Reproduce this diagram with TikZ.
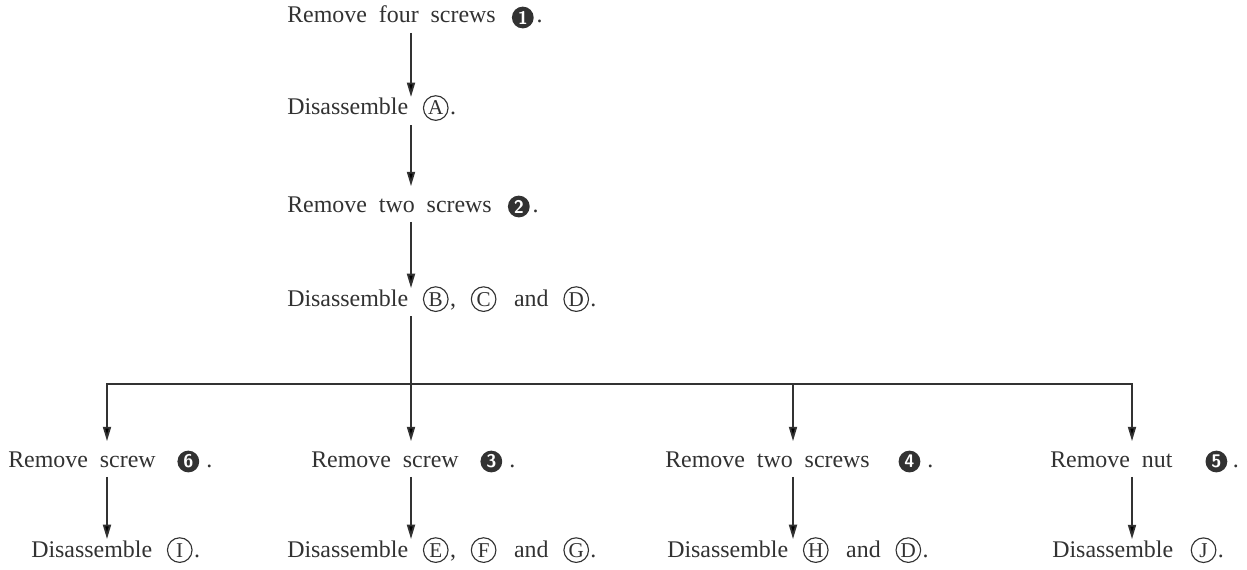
\documentclass[tikz,border=0pt]{standalone}
\usepackage{fontspec}
\setmainfont{Liberation Serif}[WordSpace=2]
\usepackage{tikz}
\usetikzlibrary{positioning,arrows.meta}

\definecolor{ink}{RGB}{50,50,50}

\newcommand{\partc}[1]{\tikz[baseline=(pc.base)]\node(pc)[circle,draw=ink,line width=0.8pt,inner sep=0pt,minimum size=17.5pt,anchor=center,text=ink,font=\fontsize{15}{15}\selectfont]{#1};}
\newcommand{\screwn}[1]{\tikz[baseline={([yshift=-3.9pt]sn.center)}]\node(sn)[circle,fill=ink,inner sep=0pt,minimum size=15.5pt,anchor=center,text=white,font=\sffamily\bfseries\fontsize{13}{13}\selectfont]{#1};}

\tikzset{hd/.tip={Triangle[length=3.6mm,width=2mm]}}

\begin{document}
\begin{tikzpicture}[x=0.025cm,y=-0.025cm,
  txt/.style={anchor=base west,inner sep=0pt,text=ink,font=\fontsize{17}{20}\selectfont},
  arr/.style={draw=ink,line width=1.3pt,-hd,shorten <=3pt,shorten >=-1.5pt},
  torem/.style={arr,shorten >=6.5pt}]

\fill[white] (0,0) rectangle (1247,570);

\coordinate (c0) at (411,0);
\coordinate (bL) at (107,384);
\coordinate (bM) at (793,384);
\coordinate (bR) at (1132,384);

\node (t1) at (287,23)[txt]{Remove four screws \kern3pt\screwn{1}\kern2pt.};
\node (t2) at (287,115)[txt]{Disassemble \kern2pt\partc{A}\kern1pt.};
\node (t3) at (287,212)[txt]{Remove two screws \kern3pt\screwn{2}\kern2pt.};
\node (t4) at (287,306)[txt]{Disassemble \kern2pt\partc{B}\kern1pt, \kern2pt\partc{C} \kern4pt and \kern2pt\partc{D}\kern1pt.};

\node (r1) at (8,467)[txt]{Remove screw \kern7pt\screwn{6}\kern5pt.};
\node (r2) at (311,467)[txt]{Remove screw \kern7pt\screwn{3}\kern5pt.};
\node (r3) at (665,467)[txt]{Remove two screws \kern12pt\screwn{4}\kern5pt.};
\node (r4) at (1050,467)[txt]{Remove nut \kern15pt\screwn{5}\kern4pt.};

\node (d1) at (31,557)[txt]{Disassemble \kern2pt\partc{I}\kern1pt.};
\node (d2) at (287,557)[txt]{Disassemble \kern2pt\partc{E}\kern1pt, \kern2pt\partc{F} \kern4pt and \kern2pt\partc{G}\kern1pt.};
\node (d3) at (667,557)[txt]{Disassemble \kern2pt\partc{H} \kern4pt and \kern2pt\partc{D}\kern1pt.};
\node (d4) at (1052,557)[txt]{Disassemble \kern4pt\partc{J}\kern1pt.};

\draw[arr] (t1.south -| c0) -- (t2.north -| c0);
\draw[torem] (t2.south -| c0) -- (t3.north -| c0);
\draw[arr] (t3.south -| c0) -- (t4.north -| c0);
\draw[torem] (t4.south -| c0) -- (r2.north -| c0);

\draw[torem,hd-hd,shorten <=6.5pt] (r1.north -| bL) -- (bL) -- (bR) -- (r4.north -| bR);
\draw[torem,shorten <=0pt] (bM) -- (r3.north -| bM);

\draw[arr] (r1.south -| bL) -- (d1.north -| bL);
\draw[arr] (r2.south -| c0) -- (d2.north -| c0);
\draw[arr] (r3.south -| bM) -- (d3.north -| bM);
\draw[arr] (r4.south -| bR) -- (d4.north -| bR);

\end{tikzpicture}
\end{document}
